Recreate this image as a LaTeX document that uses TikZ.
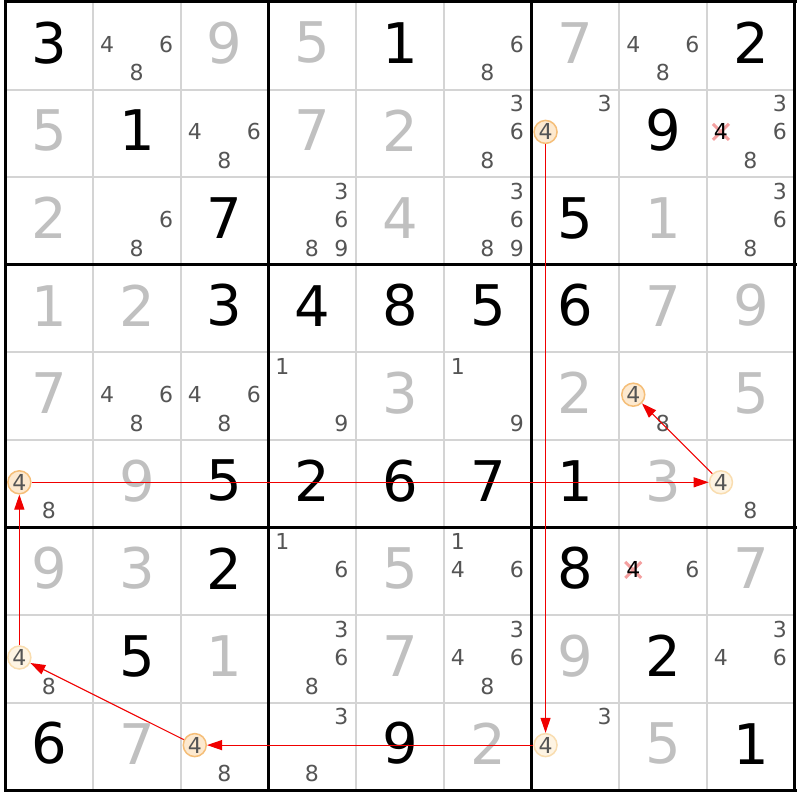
\documentclass[tikz,border=0pt]{standalone}
\usepackage{fontspec}
\setmainfont{DejaVu Sans}
\usetikzlibrary{arrows.meta}
\definecolor{thin}{HTML}{D4D4D4}
\definecolor{solved}{HTML}{C0C0C0}
\definecolor{candc}{HTML}{555555}
\definecolor{hlAdraw}{HTML}{F5BE78}
\definecolor{hlAfill}{HTML}{FDE9CF}
\definecolor{hlBdraw}{HTML}{F9DDB0}
\definecolor{hlBfill}{HTML}{FEF4E3}
\definecolor{xcol}{HTML}{F4A0A0}
\definecolor{chain}{HTML}{F00000}
\tikzset{
  given/.style={inner sep=0pt,font=\fontsize{56}{56}\selectfont,text=black},
  solvedd/.style={inner sep=0pt,font=\fontsize{56}{56}\selectfont,text=solved},
  cand/.style={inner sep=0pt,font=\fontsize{22}{22}\selectfont,text=candc},
  hlA/.style={circle,inner sep=0pt,minimum size=23pt,draw=hlAdraw,fill=hlAfill,line width=1.5pt,font=\fontsize{22}{22}\selectfont,text=candc},
  hlB/.style={circle,inner sep=0pt,minimum size=23pt,draw=hlBdraw,fill=hlBfill,line width=1.5pt,font=\fontsize{22}{22}\selectfont,text=candc},
  elim/.style={inner sep=0pt,font=\fontsize{22}{22}\selectfont,text=black},
  link/.style={draw=chain,line width=1.1pt,-{Triangle[length=15pt,width=10pt]}},
  thinline/.style={draw=thin,line width=2pt},
  thickline/.style={draw=black,line width=3pt},
}
% cell centre helpers
\newcommand\myCX[1]{(5.5+87.7*(#1-0.5))}
\newcommand\myCY[1]{(2+87.6*(#1-0.5))}
\newcommand\myGv[3]{\node[given] (n#1#2) at ({\myCX{#2}},{\myCY{#1}-3}) {#3};}
\newcommand\mySv[3]{\node[solvedd] (n#1#2) at ({\myCX{#2}},{\myCY{#1}-3}) {#3};}
\newcommand\myCv[3]{\foreach \d in {#3}{%
  \pgfmathsetmacro\ci{mod(\d-1,3)}\pgfmathsetmacro\cj{floor((\d-1)/3)}%
  \node[cand] (k#1#2\d) at ({\myCX{#2}-30+29.5*\ci},{\myCY{#1}-30+28.5*\cj}) {\d};}}
\newcommand\myHA[3]{\node[hlA] (#3) at ({\myCX{#2}-30},{\myCY{#1}-1.5}) {4};}
\newcommand\myHB[3]{\node[hlB] (#3) at ({\myCX{#2}-30},{\myCY{#1}-1.5}) {4};}
\newcommand\myEv[2]{%
  \draw[xcol,line width=3pt] ({\myCX{#2}-30-8},{\myCY{#1}-1.5-8}) -- ++(16,16)
        ({\myCX{#2}-30-8},{\myCY{#1}-1.5+8}) -- ++(16,-16);
  \node[elim] (e#1#2) at ({\myCX{#2}-30},{\myCY{#1}-1.5}) {4};}
\begin{document}
\begin{tikzpicture}[x=1pt,y=-1pt]
\useasboundingbox (0,0) rectangle (800,800);
\fill[white] (0,0) rectangle (800,800);
% grid
\foreach \i in {1,2,4,5,7,8}{
  \draw[thinline] ({5.5+87.7*\i},2) -- ({5.5+87.7*\i},790.5);
  \draw[thinline] (5.5,{2+87.6*\i}) -- (795,{2+87.6*\i});
}
\foreach \i in {0,3,6,9}{
  \draw[thickline] ({5.5+87.7*\i},0.5) -- ({5.5+87.7*\i},792);
  \draw[thickline] (4,{2+87.6*\i}) -- (796.5,{2+87.6*\i});
}
% row 1
\myGv11{3}\myCv12{4,6,8}\mySv13{9}\mySv14{5}\myGv15{1}\myCv16{6,8}\mySv17{7}\myCv18{4,6,8}\myGv19{2}
% row 2
\mySv21{5}\myGv22{1}\myCv23{4,6,8}\mySv24{7}\mySv25{2}\myCv26{3,6,8}\myCv27{3}\myHA27{c27}\myGv28{9}\myCv29{3,6,8}\myEv29
% row 3
\mySv31{2}\myCv32{6,8}\myGv33{7}\myCv34{3,6,8,9}\mySv35{4}\myCv36{3,6,8,9}\myGv37{5}\mySv38{1}\myCv39{3,6,8}
% row 4
\mySv41{1}\mySv42{2}\myGv43{3}\myGv44{4}\myGv45{8}\myGv46{5}\myGv47{6}\mySv48{7}\mySv49{9}
% row 5
\mySv51{7}\myCv52{4,6,8}\myCv53{4,6,8}\myCv54{1,9}\mySv55{3}\myCv56{1,9}\mySv57{2}\myHA58{c58}\myCv58{8}\mySv59{5}
% row 6
\myHA61{c61}\myCv61{8}\mySv62{9}\myGv63{5}\myGv64{2}\myGv65{6}\myGv66{7}\myGv67{1}\mySv68{3}\myHB69{c69}\myCv69{8}
% row 7
\mySv71{9}\mySv72{3}\myGv73{2}\myCv74{1,6}\mySv75{5}\myCv76{1,4,6}\myGv77{8}\myEv78\myCv78{6}\mySv79{7}
% row 8
\myHB81{c81}\myCv81{8}\myGv82{5}\mySv83{1}\myCv84{3,6,8}\mySv85{7}\myCv86{3,4,6,8}\mySv87{9}\myGv88{2}\myCv89{3,4,6}
% row 9
\myGv91{6}\mySv92{7}\myHA93{c93}\myCv93{8}\myCv94{3,8}\myGv95{9}\mySv96{2}\myCv97{3}\myHB97{c97}\mySv98{5}\myGv99{1}
% chain
\draw[link] (c27) -- (c97);
\draw[link] (c97) -- (c93);
\draw[link] (c93) -- (c81);
\draw[link] (c81) -- (c61);
\draw[link] (c61) -- (c69);
\draw[link] (c69) -- (c58);
\end{tikzpicture}
\end{document}
